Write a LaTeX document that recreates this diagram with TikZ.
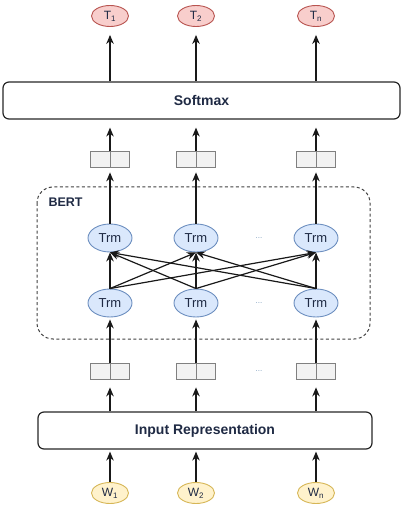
\documentclass[tikz,border=0pt]{standalone}
\usepackage{fontspec}
\setmainfont{Liberation Sans}
\usetikzlibrary{arrows.meta,shapes.geometric}
\definecolor{trmfill}{HTML}{DAE8FC}
\definecolor{trmdraw}{HTML}{6C8EBF}
\definecolor{tfill}{HTML}{F8CECC}
\definecolor{tdraw}{HTML}{B85450}
\definecolor{wfill}{HTML}{FFF2CC}
\definecolor{wdraw}{HTML}{D6B656}
\definecolor{vfill}{HTML}{F2F2F2}
\definecolor{vdraw}{HTML}{808080}
\definecolor{dotc}{HTML}{7F9FBF}
\definecolor{txt}{HTML}{1F2A44}
\begin{document}
\begin{tikzpicture}[x=1pt,y=-1pt,
  ar/.style={-{Stealth[length=9pt,width=7.5pt]}, line width=1.2pt, black!90},
  trm/.style={ellipse, draw=trmdraw, fill=trmfill, line width=0.9pt, minimum width=44pt, minimum height=28pt, inner sep=0pt, font=\fontsize{13}{15}\selectfont, text=txt},
  tok/.style={ellipse, line width=0.9pt, minimum width=37pt, minimum height=21pt, inner sep=0pt, font=\fontsize{12}{14}\selectfont, text=txt},
  tout/.style={tok, draw=tdraw, fill=tfill},
  win/.style={tok, draw=wdraw, fill=wfill},
  bigbox/.style={draw=black!85, line width=1.2pt, rounded corners=6pt, font=\bfseries\fontsize{14}{16}\selectfont, text=txt, inner sep=0pt},
  vec/.style={draw=vdraw, fill=vfill, line width=0.8pt, minimum width=39pt, minimum height=16pt, inner sep=0pt},
  dots/.style={text=dotc, font=\fontsize{8}{10}\selectfont}
]
\useasboundingbox (0,0) rectangle (406,510);

% output tokens
\node[tout] (T1) at (110,16) {T\textsubscript{1}};
\node[tout] (T2) at (196,16) {T\textsubscript{2}};
\node[tout] (T3) at (316,16) {T\textsubscript{n}};

% softmax
\node[bigbox, minimum width=397pt, minimum height=37pt] (sm) at (201.5,100.5) {Softmax};

% top vectors
\node[vec] (v1) at (110,159) {};
\node[vec] (v2) at (196,159) {};
\node[vec] (v3) at (316,159) {};

% BERT box
\draw[line width=1pt, black!75, dash pattern=on 3pt off 2.5pt, rounded corners=16pt] (37,187) rectangle (370,339);
\node[anchor=west, font=\bfseries\fontsize{12.5}{14}\selectfont, text=txt] (bert) at (45,202) {BERT};

% Trm nodes
\node[trm] (a1) at (110,238) {Trm};
\node[trm] (a2) at (196,238) {Trm};
\node[trm] (a3) at (316,238) {Trm};
\node[trm] (b1) at (110,303) {Trm};
\node[trm] (b2) at (196,303) {Trm};
\node[trm] (b3) at (316,303) {Trm};
\node[dots] (d1) at (259,238) {...};
\node[dots] (d2) at (259,303) {...};

% bottom vectors
\node[vec] (u1) at (110,371) {};
\node[vec] (u2) at (196,371) {};
\node[vec] (u3) at (316,371) {};
\node[dots] (d3) at (259,371) {...};

% input representation
\node[bigbox, minimum width=334pt, minimum height=37pt] (inp) at (205,430.5) {Input Representation};

% input tokens
\node[win] (W1) at (110,493) {W\textsubscript{1}};
\node[win] (W2) at (196,493) {W\textsubscript{2}};
\node[win] (W3) at (316,493) {W\textsubscript{n}};

% arrows
\foreach \i in {1,2,3}{
  \draw[ar, shorten >=8pt] (sm.north -| T\i) -- (T\i.south);
  \draw[ar, shorten >=8pt] (v\i.north) -- (sm.south -| v\i);
  \draw[vdraw, line width=0.8pt] (v\i.north) -- (v\i.south);
  \draw[ar, shorten >=5pt] (a\i.north) -- (v\i.south);
  \draw[ar, shorten >=2pt] (u\i.north) -- (b\i.south);
  \draw[vdraw, line width=0.8pt] (u\i.north) -- (u\i.south);
  \draw[ar, shorten >=8pt] (inp.north -| u\i) -- (u\i.south);
  \draw[ar, shorten >=2pt] (W\i.north) -- (inp.south -| W\i);
}
\foreach \i in {1,2,3}{
  \foreach \j in {1,2,3}{
    \draw[ar] (b\i.north) -- (a\j.south);
  }
}
\end{tikzpicture}
\end{document}
